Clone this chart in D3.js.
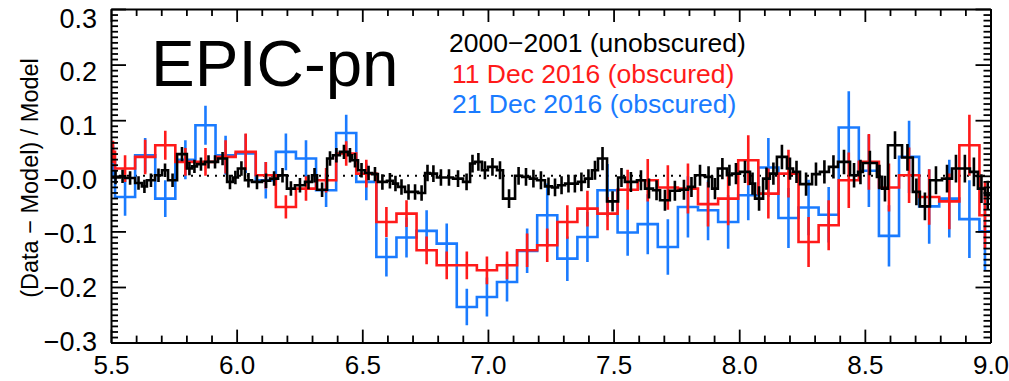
<!DOCTYPE html>
<html>
<head>
<meta charset="utf-8">
<script src="https://cdn.jsdelivr.net/npm/d3@7"></script>
<style>
  html, body { margin: 0; padding: 0; background: #fff; }
  svg { display: block; }
  text { font-family: "Liberation Sans", Arial, Helvetica, sans-serif; }
</style>
</head>
<body>
<svg id="chart" width="1009" height="381"></svg>
<script>
// ---------------- DATA ----------------
const xTicks = [5.5, 6.0, 6.5, 7.0, 7.5, 8.0, 8.5, 9.0];
const yTicks = [-0.3, -0.2, -0.1, 0.0, 0.1, 0.2, 0.3];
const xTickLabels = ["5.5", "6.0", "6.5", "7.0", "7.5", "8.0", "8.5", "9.0"];
const yTickLabels = ["\u22120.3", "\u22120.2", "\u22120.1", "\u22120.0", "0.1", "0.2", "0.3"];

const legendLabels = ["2000\u22122001 (unobscured)", "11 Dec 2016 (obscured)", "21 Dec 2016 (obscured)"];
const panelTitle = "EPIC-pn";
const yTitle = "(Data \u2212 Model) / Model";

// black: 2000-2001 (fine binning), bin edges in keV
const blackEdges = [
  5.500, 5.536, 5.556, 5.596, 5.623, 5.643, 5.675, 5.703, 5.727, 5.763,
  5.802, 5.822, 5.842, 5.874, 5.902, 5.926, 5.962, 5.985, 6.005, 6.033,
  6.061, 6.101, 6.133, 6.165, 6.200, 6.232, 6.272, 6.300, 6.320, 6.360,
  6.383, 6.411, 6.443, 6.459, 6.483, 6.511, 6.539, 6.562, 6.598, 6.622,
  6.642, 6.670, 6.698, 6.722, 6.750, 6.769, 6.797, 6.829, 6.861, 6.901,
  6.929, 6.948, 6.976, 7.000, 7.036, 7.060, 7.108, 7.136, 7.167, 7.195,
  7.227, 7.255, 7.279, 7.307, 7.334, 7.358, 7.386, 7.414, 7.438, 7.474,
  7.518, 7.545, 7.593, 7.625, 7.657, 7.685, 7.724, 7.764, 7.796, 7.824,
  7.864, 7.892, 7.915, 7.951, 7.971, 8.003, 8.043, 8.063, 8.095, 8.122,
  8.150, 8.190, 8.214, 8.242, 8.290, 8.321, 8.357, 8.393, 8.441, 8.473,
  8.492, 8.548, 8.568, 8.592, 8.648, 8.691, 8.719, 8.759, 8.807, 8.847,
  8.878, 8.918, 8.950, 8.978, 9.000
];
const blackVals = [
  -0.003, -0.001, -0.004, -0.013, -0.019, -0.008, 0.001, 0.010, -0.008, 0.039,
  0.013, 0.017, 0.021, 0.025, 0.025, 0.031, -0.011, -0.003, 0.013, -0.008,
  -0.011, -0.009, -0.005, 0.001, -0.023, -0.017, -0.011, 0.001, -0.025, 0.031,
  0.037, 0.043, 0.037, 0.028, 0.010, 0.005, 0.003, -0.011, -0.009, -0.014,
  -0.020, -0.029, -0.029, -0.031, 0.005, 0.004, -0.003, -0.003, -0.005, -0.011,
  0.022, 0.025, 0.010, 0.016, 0.010, -0.041, 0.000, -0.002, -0.005, -0.008,
  -0.019, -0.021, -0.017, -0.014, -0.014, -0.011, -0.005, 0.010, 0.031, -0.046,
  -0.003, -0.011, -0.008, -0.023, -0.026, -0.044, -0.027, -0.025, -0.020, 0.001,
  -0.002, -0.023, 0.013, 0.001, 0.004, 0.007, -0.014, -0.041, -0.005, 0.004,
  0.034, 0.013, 0.007, -0.015, 0.003, 0.007, 0.016, 0.025, 0.001, 0.007,
  0.023, -0.002, -0.023, 0.055, 0.033, -0.029, -0.055, -0.008, -0.005, 0.013,
  0.013, 0.007, -0.023, -0.035
];
const blackErr = [
  0.012, 0.012, 0.012, 0.012, 0.012, 0.012, 0.012, 0.012, 0.012, 0.013,
  0.012, 0.012, 0.012, 0.012, 0.012, 0.012, 0.013, 0.012, 0.013, 0.013,
  0.013, 0.013, 0.013, 0.013, 0.013, 0.013, 0.013, 0.013, 0.013, 0.013,
  0.013, 0.013, 0.013, 0.013, 0.013, 0.013, 0.013, 0.014, 0.014, 0.014,
  0.014, 0.014, 0.014, 0.014, 0.015, 0.015, 0.015, 0.015, 0.015, 0.015,
  0.016, 0.016, 0.016, 0.016, 0.016, 0.017, 0.016, 0.016, 0.016, 0.016,
  0.016, 0.016, 0.016, 0.016, 0.016, 0.017, 0.017, 0.017, 0.021, 0.018,
  0.017, 0.018, 0.018, 0.018, 0.018, 0.019, 0.018, 0.018, 0.018, 0.019,
  0.019, 0.019, 0.019, 0.019, 0.019, 0.020, 0.020, 0.022, 0.020, 0.020,
  0.022, 0.020, 0.020, 0.021, 0.021, 0.021, 0.021, 0.022, 0.022, 0.022,
  0.022, 0.022, 0.023, 0.025, 0.024, 0.024, 0.025, 0.025, 0.025, 0.025,
  0.025, 0.026, 0.026, 0.026
];

// red / blue: 2016 observations (coarse binning), shared bin edges in keV
const obsEdges = [
  5.500, 5.516, 5.596, 5.676, 5.756, 5.836, 5.916, 5.996, 6.076, 6.156,
  6.236, 6.316, 6.396, 6.476, 6.556, 6.636, 6.716, 6.796, 6.876, 6.956,
  7.036, 7.116, 7.196, 7.276, 7.356, 7.436, 7.516, 7.596, 7.676, 7.756,
  7.836, 7.916, 7.996, 8.076, 8.156, 8.236, 8.316, 8.396, 8.476, 8.556,
  8.636, 8.716, 8.796, 8.876, 8.956, 9.000
];
const redVals = [
  0.043, 0.013, 0.034, 0.055, 0.025, 0.025, 0.034, 0.043, 0.001, -0.056,
  -0.023, -0.008, 0.040, 0.004, -0.083, -0.068, -0.134, -0.161, -0.161, -0.170,
  -0.161, -0.134, -0.125, -0.083, -0.059, -0.068, -0.025, -0.008, -0.021, -0.023,
  -0.051, -0.041, 0.028, -0.032, 0.004, -0.119, -0.089, -0.008, 0.025, -0.021,
  0.001, -0.038, -0.046, 0.055, -0.071
];
const redErr = [
  0.020, 0.024, 0.031, 0.026, 0.025, 0.025, 0.030, 0.033, 0.024, 0.021,
  0.022, 0.022, 0.022, 0.025, 0.027, 0.024, 0.025, 0.025, 0.025, 0.025,
  0.025, 0.030, 0.030, 0.030, 0.032, 0.030, 0.036, 0.038, 0.040, 0.045,
  0.040, 0.048, 0.045, 0.045, 0.043, 0.045, 0.045, 0.050, 0.050, 0.043,
  0.050, 0.050, 0.050, 0.055, 0.060
];
const blueVals = [
  0.025, -0.038, 0.037, -0.041, 0.029, 0.091, 0.037, 0.040, -0.008, 0.043,
  0.031, -0.026, 0.077, -0.011, -0.146, -0.111, -0.099, -0.122, -0.236, -0.218,
  -0.191, -0.135, -0.071, -0.149, -0.110, -0.026, -0.102, -0.087, -0.128, -0.056,
  -0.062, -0.083, -0.035, 0.015, -0.076, -0.057, -0.070, 0.087, 0.009, -0.108,
  0.034, -0.055, -0.041, -0.078, -0.100
];
const blueErr = [
  0.030, 0.034, 0.031, 0.033, 0.035, 0.035, 0.035, 0.035, 0.033, 0.033,
  0.033, 0.030, 0.033, 0.033, 0.035, 0.036, 0.037, 0.036, 0.033, 0.035,
  0.035, 0.040, 0.057, 0.040, 0.045, 0.047, 0.042, 0.054, 0.050, 0.055,
  0.054, 0.048, 0.045, 0.053, 0.054, 0.050, 0.050, 0.065, 0.065, 0.055,
  0.065, 0.067, 0.070, 0.070, 0.070
];

// ---------------- LAYOUT ----------------
const X0 = 111, X1 = 990.5, Y0 = 9, Y1 = 342.6;
const colBlack = "#000000", colRed = "#ff1a1a", colBlue = "#1a7bff";

const svg = d3.select("#chart");
const x = d3.scaleLinear().domain([5.5, 9.0]).range([X0, X1]);
const y = d3.scaleLinear().domain([-0.3, 0.3]).range([Y1, Y0]);
// label placement scale for the y tick labels (they sit slightly inside the tick span in the reference)
const yLab = d3.scaleLinear().domain([-0.3, 0.3]).range([341.5, 18.5]);

svg.append("defs").append("clipPath").attr("id", "clip")
  .append("rect").attr("x", X0).attr("y", Y0).attr("width", X1 - X0).attr("height", Y1 - Y0);

const plot = svg.append("g").attr("clip-path", "url(#clip)");

// dotted zero line
plot.append("line")
  .attr("x1", x(5.5)).attr("x2", x(9.0)).attr("y1", y(0)).attr("y2", y(0))
  .attr("stroke", "#000").attr("stroke-width", 2).attr("stroke-dasharray", "2,6");

function drawSeries(edges, vals, errs, color, lw) {
  const n = Math.min(vals.length, edges.length - 1);
  const pts = [];
  for (let i = 0; i < n; i++) pts.push([edges[i], vals[i]]);
  pts.push([edges[n], vals[n - 1]]);
  const line = d3.line().x(d => x(d[0])).y(d => y(d[1])).curve(d3.curveStepAfter);
  const g = plot.append("g");
  g.append("path").attr("d", line(pts)).attr("fill", "none")
    .attr("stroke", color).attr("stroke-width", lw).attr("stroke-linejoin", "miter");
  const bars = d3.range(n).map(i => ({ c: (edges[i] + edges[i + 1]) / 2, v: vals[i], e: errs[i] }));
  g.selectAll("line.err").data(bars).join("line").attr("class", "err")
    .attr("x1", d => x(d.c)).attr("x2", d => x(d.c))
    .attr("y1", d => y(d.v - d.e)).attr("y2", d => y(d.v + d.e))
    .attr("stroke", color).attr("stroke-width", lw);
}

drawSeries(obsEdges, blueVals, blueErr, colBlue, 2.6);
drawSeries(obsEdges, redVals, redErr, colRed, 2.6);
drawSeries(blackEdges, blackVals, blackErr, colBlack, 2.6);

// ---------------- AXES ----------------
const fontTick = 27;
const xMinor = d3.range(55, 91).map(d => d / 10).filter(d => !xTicks.some(t => Math.abs(t - d) < 1e-6));
const yMinor = d3.range(-30, 31).map(d => d / 100).filter(d => !yTicks.some(t => Math.abs(t - d) < 1e-6));

function styleAxis(g) {
  g.selectAll("path.domain").attr("stroke", "#000").attr("stroke-width", 2);
  g.selectAll(".tick line").attr("stroke", "#000").attr("stroke-width", 1.8);
}

// bottom
const gB = svg.append("g").attr("transform", `translate(0,${Y1})`)
  .call(d3.axisBottom(x).tickValues(xTicks).tickSizeInner(-13).tickSizeOuter(0)
    .tickPadding(13).tickFormat((d, i) => xTickLabels[i]));
gB.selectAll("text").attr("font-size", 26).attr("fill", "#000")
  .attr("font-family", "Liberation Sans, Arial, sans-serif");
styleAxis(gB);
const gBm = svg.append("g").attr("transform", `translate(0,${Y1})`)
  .call(d3.axisBottom(x).tickValues(xMinor).tickSizeInner(-7).tickSizeOuter(0).tickFormat(""));
gBm.select("path.domain").remove(); styleAxis(gBm);

// top
const gT = svg.append("g").attr("transform", `translate(0,${Y0})`)
  .call(d3.axisTop(x).tickValues(xTicks).tickSizeInner(-13).tickSizeOuter(0).tickFormat(""));
styleAxis(gT);
const gTm = svg.append("g").attr("transform", `translate(0,${Y0})`)
  .call(d3.axisTop(x).tickValues(xMinor).tickSizeInner(-7).tickSizeOuter(0).tickFormat(""));
gTm.select("path.domain").remove(); styleAxis(gTm);

// left
const gL = svg.append("g").attr("transform", `translate(${X0},0)`)
  .call(d3.axisLeft(y).tickValues(yTicks).tickSizeInner(-15).tickSizeOuter(0).tickFormat(""));
styleAxis(gL);
const gLm = svg.append("g").attr("transform", `translate(${X0},0)`)
  .call(d3.axisLeft(y).tickValues(yMinor).tickSizeInner(-7).tickSizeOuter(0).tickFormat(""));
gLm.select("path.domain").remove(); styleAxis(gLm);
const gLl = svg.append("g").attr("transform", `translate(${X0 - 14},0)`)
  .call(d3.axisLeft(yLab).tickValues(yTicks).tickSize(0).tickPadding(0)
    .tickFormat((d, i) => yTickLabels[i]));
gLl.select("path.domain").remove();
gLl.selectAll("text").attr("font-size", fontTick).attr("fill", "#000")
  .attr("font-family", "Liberation Sans, Arial, sans-serif");

// right
const gR = svg.append("g").attr("transform", `translate(${X1},0)`)
  .call(d3.axisRight(y).tickValues(yTicks).tickSizeInner(-15).tickSizeOuter(0).tickFormat(""));
styleAxis(gR);
const gRm = svg.append("g").attr("transform", `translate(${X1},0)`)
  .call(d3.axisRight(y).tickValues(yMinor).tickSizeInner(-7).tickSizeOuter(0).tickFormat(""));
gRm.select("path.domain").remove(); styleAxis(gRm);

// y title
svg.append("text")
  .attr("transform", `translate(38,178) rotate(-90)`)
  .attr("text-anchor", "middle")
  .attr("font-size", 23.5).attr("fill", "#000")
  .text(yTitle);

// panel title
svg.append("text").attr("x", 151).attr("y", 86)
  .attr("font-size", 65.5).attr("fill", "#000").text(panelTitle);

// legend
const legCols = [colBlack, colRed, colBlue];
const legY = [52, 83, 113];
const legX = [449, 452, 452];
svg.selectAll("text.leg").data(legendLabels).join("text").attr("class", "leg")
  .attr("x", (d, i) => legX[i]).attr("y", (d, i) => legY[i])
  .attr("font-size", 26.5).attr("fill", (d, i) => legCols[i])
  .text(d => d);
</script>
</body>
</html>
